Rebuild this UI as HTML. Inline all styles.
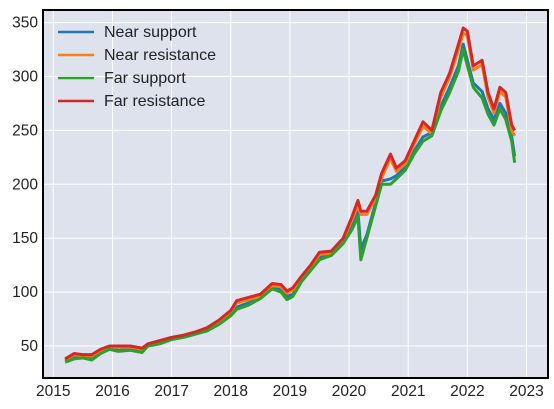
<!DOCTYPE html>
<html><head><meta charset="utf-8"><style>
body{margin:0;background:#fff;}
svg{display:block;font-family:"Liberation Sans",sans-serif;}
</style></head><body>
<svg id="chart" width="554" height="409">
<rect x="43" y="10" width="505" height="368" fill="#dde2ed"/>
<g id="grid"></g><g id="series"></g><g id="ticks"></g>
<rect x="43" y="10" width="505" height="368" fill="none" stroke="#000" stroke-width="2"/>
<g font-size="16" fill="#222">
<g><line x1="58" y1="32" x2="94" y2="32" stroke="#1f77b4" stroke-width="2.5"/><text x="104" y="37">Near support</text></g>
<g><line x1="58" y1="55" x2="94" y2="55" stroke="#ff7f0e" stroke-width="2.5"/><text x="104" y="60">Near resistance</text></g>
<g><line x1="58" y1="78" x2="94" y2="78" stroke="#2ca02c" stroke-width="2.5"/><text x="104" y="83">Far support</text></g>
<g><line x1="58" y1="101" x2="94" y2="101" stroke="#d62728" stroke-width="2.5"/><text x="104" y="106">Far resistance</text></g>
</g>
</svg>
<script>
const dates=[2015.2,2015.35,2015.5,2015.65,2015.8,2015.95,2016.1,2016.3,2016.5,2016.6,2016.8,2017.0,2017.2,2017.4,2017.6,2017.8,2018.0,2018.1,2018.3,2018.5,2018.7,2018.85,2018.95,2019.05,2019.2,2019.35,2019.5,2019.7,2019.9,2020.05,2020.15,2020.2,2020.3,2020.45,2020.55,2020.7,2020.8,2020.95,2021.1,2021.25,2021.4,2021.55,2021.7,2021.85,2021.93,2022.0,2022.1,2022.25,2022.35,2022.45,2022.55,2022.65,2022.75,2022.8];
const farResistance=[38,43,42,42,47,50,50,50,48,52,55,58,60,63,67,74,83,92,95,98,108,107,101,104,115,125,137,138,150,170,185,175,175,190,210,228,215,222,240,258,250,285,303,330,345,342,310,315,285,270,290,285,255,250];
const nearResistance=[37,42,41,41,46,49,49,49,47,51,54,57,59,62,66,73,82,90,93,96,106,105,99,102,113,123,135,136,148,167,180,172,172,187,206,224,212,219,237,254,247,281,299,325,340,338,306,311,281,266,286,281,250,245];
const nearSupport=[36,39,40,38,44,48,46,47,45,51,53,57,59,62,65,71,80,86,90,96,105,102,96,98,112,122,132,136,147,161,175,140,153,183,203,205,208,216,231,244,248,272,290,310,330,315,294,286,270,260,275,266,244,226];
const farSupport=[35,38,39,37,43,47,45,46,44,50,52,56,58,61,64,70,78,84,88,94,103,100,93,96,110,120,130,134,145,158,170,130,150,180,200,200,205,213,228,240,245,268,285,305,325,310,290,280,265,255,270,260,240,220];
const yTicks=[50,100,150,200,250,300,350];
const xTicks=[2015,2016,2017,2018,2019,2020,2021,2022,2023];
const NS='http://www.w3.org/2000/svg';
const xs=v=>53.3+(v-2015)*59.15;
const ys=v=>346-(v-50)*1.078;
const grid=document.getElementById('grid'),ticks=document.getElementById('ticks'),ser=document.getElementById('series');
function mk(tag,attrs,parent){const e=document.createElementNS(NS,tag);for(const k in attrs)e.setAttribute(k,attrs[k]);parent.appendChild(e);return e;}
yTicks.forEach(t=>{
 const l=mk('line',{x1:43,x2:548,y1:ys(t),y2:ys(t),stroke:'#fff','stroke-width':1},grid);
 
 
 const tx=mk('text',{x:38,y:ys(t)+5,'text-anchor':'end','font-size':15.5,fill:'#222'},ticks);
 tx.textContent=t;
 
 
});
xTicks.forEach(t=>{
 const l=mk('line',{x1:xs(t),x2:xs(t),y1:10,y2:378,stroke:'#fff','stroke-width':1},grid);
 
 
 const tx=mk('text',{x:xs(t),y:396,'text-anchor':'middle','font-size':15.5,fill:'#222'},ticks);
 tx.textContent=t;
 
 
});
function draw(vals,color,name){
 let d='';
 vals.forEach((v,i)=>{
  d+=(i===0?'M':'L')+xs(dates[i])+','+ys(v);
 });
 const p=mk('path',{d:d,fill:'none',stroke:color,'stroke-width':3,'stroke-linejoin':'round'},ser);
 
 
}
draw(nearSupport,'#1f77b4','near-support-line');
draw(nearResistance,'#ff7f0e','near-resistance-line');
draw(farSupport,'#2ca02c','far-support-line');
draw(farResistance,'#d62728','far-resistance-line');
</script>
</body></html>
